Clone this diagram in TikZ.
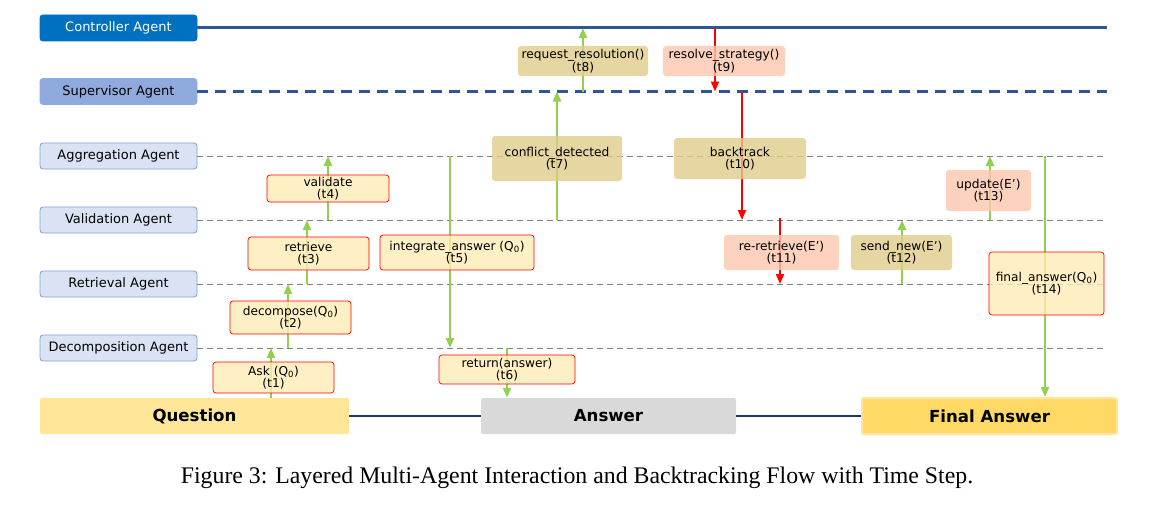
\documentclass[tikz,border=0pt]{standalone}
\usepackage{fontspec}
\setmainfont{DejaVu Sans}
\newfontfamily\capfont{Liberation Serif}
\usetikzlibrary{arrows.meta}

\definecolor{ctlblue}{HTML}{0070C0}
\definecolor{supblue}{HTML}{8FAADC}
\definecolor{lightblue}{HTML}{DAE3F3}
\definecolor{edgeblue}{HTML}{7C9FD6}
\definecolor{laneblue}{HTML}{2F5597}
\definecolor{navy}{HTML}{203864}
\definecolor{qyellow}{HTML}{FFE699}
\definecolor{fyellow}{HTML}{FFD966}
\definecolor{msgyellow}{HTML}{FFEBB5}
\definecolor{tan}{HTML}{E0CC8A}
\definecolor{salmon}{HTML}{FBC6AE}
\definecolor{flowgreen}{HTML}{92D050}

\tikzset{
  agent/.style={rectangle, rounded corners=3pt, minimum width=157pt, minimum height=26pt,
    inner sep=0pt, fill=lightblue, draw=edgeblue, line width=0.8pt, font=\fontsize{13}{13}\selectfont},
  lane/.style={gray, dash pattern=on 6pt off 4pt, line width=0.9pt},
  msg/.style={rectangle, rounded corners=3pt, inner sep=0pt, align=center,
    fill=msgyellow, fill opacity=0.8, text opacity=1, draw=red, line width=0.7pt,
    font=\fontsize{12.2}{12.5}\selectfont},
  msgtan/.style={msg, fill=tan, draw=none},
  msgsalmon/.style={msg, fill=salmon, draw=none},
  endbox/.style={rectangle, rounded corners=2pt, inner sep=0pt, minimum height=36pt,
    font=\fontsize{16.6}{16.6}\selectfont\bfseries},
  upflow/.style={flowgreen, line width=2.2pt, -{Triangle[width=8pt,length=10pt]}},
  backflow/.style={red, line width=2pt, -{Triangle[width=8pt,length=10pt]}}
}

\begin{document}
\begin{tikzpicture}[x=1pt, y=-1pt]
  \useasboundingbox (0, 0) rectangle (1169, 511);

  \node[agent, fill=ctlblue, draw=ctlblue, text=white] (ctl) at (118.5, 28) {Controller Agent};
  \node[agent, fill=supblue, draw=supblue] (sup) at (118.5, 91.5) {Supervisor Agent};
  \node[agent] (agg) at (118.5, 156) {Aggregation Agent};
  \node[agent] (val) at (118.5, 220) {Validation Agent};
  \node[agent] (ret) at (118.5, 284) {Retrieval Agent};
  \node[agent] (dec) at (118.5, 348) {Decomposition Agent};

  \coordinate (laneend) at (1107, 0);

  \draw[laneblue, line width=3pt] (ctl.east) -- (ctl.east -| laneend);
  \draw[laneblue, line width=2.6pt, dash pattern=on 11pt off 7pt] (sup.east) -- (sup.east -| laneend);
  \draw[lane] (agg.east) -- (agg.east -| laneend);
  \draw[lane] (val.east) -- (val.east -| laneend);
  \draw[lane] (ret.east) -- (ret.east -| laneend);
  \draw[lane] (dec.east) -- (dec.east -| laneend);

  \node[endbox, minimum width=309pt, fill=qyellow] (q) at (194.5, 416) {Question};
  \node[endbox, minimum width=255pt, fill=black!15] (ans) at (608.5, 416) {Answer};
  \node[endbox, minimum width=255pt, fill=fyellow, draw=qyellow, line width=2pt] (fin) at (989.5, 416) {Final Answer};

  \draw[navy, line width=2.6pt] (q.east) -- (ans.west);
  \draw[navy, line width=2.6pt] (ans.east) -- (fin.west);

  \coordinate (x1) at (271, 0);
  \coordinate (x2) at (288, 0);
  \coordinate (x3) at (307, 0);
  \coordinate (x4) at (328, 0);
  \coordinate (x5) at (450, 0);
  \coordinate (x6) at (507, 0);
  \coordinate (x7) at (557, 0);
  \coordinate (x8) at (583, 0);
  \coordinate (x9) at (715, 0);
  \coordinate (x10) at (742, 0);
  \coordinate (x11) at (780, 0);
  \coordinate (x12) at (902, 0);
  \coordinate (x13) at (990, 0);
  \coordinate (x14) at (1045, 0);

  \draw[upflow] (x1 |- q.north) -- (x1 |- dec);
  \draw[upflow] (x2 |- dec) -- (x2 |- ret);
  \draw[upflow] (x3 |- ret) -- (x3 |- val);
  \draw[upflow] (x4 |- val) -- (x4 |- agg);
  \draw[upflow] (x5 |- agg) -- (x5 |- dec);
  \draw[upflow] (x6 |- dec) -- (x6 |- ans.north);
  \draw[upflow] (x7 |- val) -- (x7 |- sup);
  \draw[upflow] (x8 |- sup) -- (x8 |- ctl);
  \draw[backflow] (x9 |- ctl) -- (x9 |- sup);
  \draw[backflow] (x10 |- sup) -- (x10 |- val);
  \draw[backflow] ([yshift=2pt]x11 |- val) -- (x11 |- ret);
  \draw[upflow] (x12 |- ret) -- (x12 |- val);
  \draw[upflow] (x13 |- val) -- (x13 |- agg);
  \draw[upflow] (x14 |- agg) -- (x14 |- fin.north);

  \node[msg, minimum width=121pt, minimum height=31pt] (m1) at (273.5, 377.5) {Ask (Q\textsubscript{0})\\(t1)};
  \node[msg, minimum width=121pt, minimum height=33pt] (m2) at (290.5, 317.5) {decompose(Q\textsubscript{0})\\(t2)};
  \node[msg, minimum width=121pt, minimum height=33pt] (m3) at (308.5, 253.5) {retrieve\\(t3)};
  \node[msg, minimum width=122pt, minimum height=27pt] (m4) at (328, 188.5) {validate\\(t4)};
  \node[msg, minimum width=154pt, minimum height=35pt] (m5) at (457, 252.5) {integrate\_answer (Q\textsubscript{0})\\(t5)};
  \node[msg, minimum width=136pt, minimum height=29pt] (m6) at (507, 369.5) {return(answer)\\(t6)};
  \node[msgtan, minimum width=130pt, minimum height=45pt] (m7) at (557, 158.5) {conflict\_detected\\(t7)};
  \node[msgtan, minimum width=130pt, minimum height=30pt] (m8) at (583, 61) {request\_resolution()\\(t8)};
  \node[msgsalmon, minimum width=122pt, minimum height=30pt] (m9) at (724, 61) {resolve\_strategy()\\(t9)};
  \node[msgtan, minimum width=132pt, minimum height=41pt] (m10) at (740, 158.5) {backtrack\\(t10)};
  \node[msgsalmon, minimum width=115pt, minimum height=35pt] (m11) at (781.5, 252.5) {re-retrieve(E')\\(t11)};
  \node[msgtan, minimum width=101pt, minimum height=35pt] (m12) at (901.5, 252.5) {send\_new(E')\\(t12)};
  \node[msgsalmon, minimum width=85pt, minimum height=41pt] (m13) at (988.5, 190.5) {update(E')\\(t13)};
  \node[msg, minimum width=115pt, minimum height=63pt] (m14) at (1046.5, 283.5) {final\_answer(Q\textsubscript{0})\\(t14)};

  \node[font=\capfont\fontsize{23.8}{24}\selectfont] (cap) at (577, 478) {Figure 3: Layered Multi-Agent Interaction and Backtracking Flow with Time Step.};
\end{tikzpicture}
\end{document}
